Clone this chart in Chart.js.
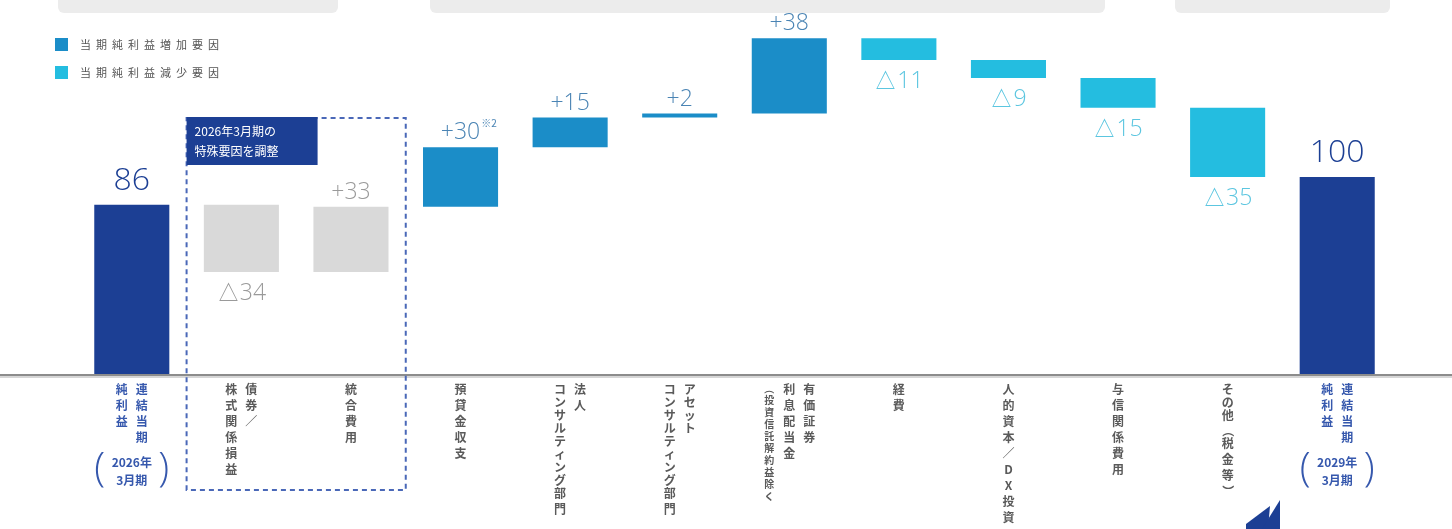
<!DOCTYPE html>
<html lang="ja">
<head>
<meta charset="utf-8">
<script src="https://cdn.jsdelivr.net/npm/chart.js@4/dist/chart.umd.min.js"></script>
<style>
  html, body { margin: 0; padding: 0; background: #fff; }
  #wrap { width: 1452px; height: 529px; }
</style>
</head>
<body>
<div id="wrap"><canvas id="waterfall" width="1452" height="529"></canvas></div>
<script>
// カテゴリ（縦書き、右の列から左の列へ）
const categories = [
  ['連結当期', '純利益'],
  ['債券／', '株式関係損益'],
  ['統合費用'],
  ['預貸金収支'],
  ['法人', 'コンサルティング部門'],
  ['アセット', 'コンサルティング部門'],
  ['有価証券', '利息配当金', '（投資信託解約益除く'],
  ['経費'],
  ['人的資本／DX投資'],
  ['与信関係費用'],
  ['その他（税金等）'],
  ['連結当期', '純利益']
];
const periods = [['2026年', '3月期'], null, null, null, null, null, null, null, null, null, null, ['2029年', '3月期']];

// 増減額（億円）
const deltas = [86, -34, 33, 30, 15, 2, 38, -11, -9, -15, -35, 100];
const kinds = ['total', 'adjust', 'adjust', 'up', 'up', 'up', 'up', 'down', 'down', 'down', 'down', 'total'];
const valueLabels = ['86', '△34', '+33', '+30', '+15', '+2', '+38', '△11', '△9', '△15', '△35', '100'];
const legendLabels = ['当期純利益増加要因', '当期純利益減少要因'];
const noteText = ['2026年3月期の', '特殊要因を調整'];

const barColors = { total: '#1c3f94', adjust: '#d9d9d9', up: '#1b8dc8', down: '#24bde0' };
const textColors = { total: '#1c3f94', adjust: '#9a9a9a', up: '#4a84b4', down: '#5cc6e0' };

// 積み上げ範囲を作る
let running = 0;
const ranges = deltas.map((d, i) => {
  if (kinds[i] === 'total') { running = d; return [0, d]; }
  const start = running;
  running += d;
  return [Math.min(start, running), Math.max(start, running)];
});

const JP = '"Noto Sans CJK JP", "Noto Sans", sans-serif';
const NUM = '"Open Sans", "Noto Sans", sans-serif';

// 縦書き：かなは詰め、括弧は回転
function drawVertical(ctx, text, x, y, small) {
  for (const ch of Array.from(text)) {
    let step;
    if (small) step = 12;
    else if ('（）()'.includes(ch)) step = 12;
    else if (/[\u3040-\u30ff]/.test(ch)) step = 13;
    else step = 16;
    if ('（）()'.includes(ch)) {
      ctx.save();
      ctx.translate(x, y + step / 2);
      ctx.rotate(Math.PI / 2);
      ctx.textBaseline = 'middle';
      ctx.fillText(ch, 0, 0);
      ctx.restore();
    } else {
      ctx.textBaseline = 'top';
      ctx.fillText(ch, x, y);
    }
    y += step;
  }
}

const decor = {
  id: 'decor',
  beforeDraw(chart) {
    const ctx = chart.ctx;
    ctx.save();
    ctx.fillStyle = '#ececec';
    [[58, 280], [430, 675], [1175, 215]].forEach(([x, w]) => {
      ctx.beginPath();
      ctx.roundRect(x, -8, w, 21, 6);
      ctx.fill();
    });
    ctx.restore();
  },
  afterDraw(chart) {
    const ctx = chart.ctx;
    const xs = chart.scales.x;
    const meta = chart.getDatasetMeta(0);
    ctx.save();

    // 基準線
    ctx.fillStyle = '#8c8c8c';
    ctx.fillRect(0, 374, 1452, 2);
    ctx.fillStyle = '#d6d6d6';
    ctx.fillRect(0, 376, 1452, 2);

    // 数値ラベル
    ctx.textAlign = 'center';
    meta.data.forEach((bar, i) => {
      const k = kinds[i];
      ctx.fillStyle = textColors[k];
      if (k === 'total') {
        ctx.font = '300 32px ' + NUM;
        ctx.textBaseline = 'bottom';
        ctx.fillText(valueLabels[i], bar.x, bar.y - 8);
      } else if (deltas[i] > 0) {
        ctx.font = '300 23px ' + NUM;
        ctx.textBaseline = 'bottom';
        ctx.fillText(valueLabels[i], bar.x, bar.y - 3);
        if (i === 3) {
          const w = ctx.measureText(valueLabels[i]).width;
          ctx.font = '10px ' + JP;
          ctx.textAlign = 'left';
          ctx.fillText('※2', bar.x + w / 2 + 1, bar.y - 19);
          ctx.textAlign = 'center';
        }
      } else {
        ctx.font = '300 23px ' + NUM;
        ctx.textBaseline = 'top';
        const bottom = Math.max(bar.y, bar.base);
        ctx.fillText(valueLabels[i], bar.x, bottom + 10);
      }
    });

    // 縦書きカテゴリ
    const colGap = 20;
    categories.forEach((cols, i) => {
      const cx = xs.getPixelForValue(i);
      const isTotal = kinds[i] === 'total';
      ctx.fillStyle = isTotal ? '#3658ad' : '#5a5a5a';
      ctx.textAlign = 'center';
      const n = cols.length;
      cols.forEach((col, j) => {
        const small = col.startsWith('（');
        ctx.font = (small ? 'bold 10px ' : 'bold 12px ') + JP;
        const x = cx + ((n - 1) / 2 - j) * colGap;
        drawVertical(ctx, col, x, 383, small);
      });
      const p = periods[i];
      if (p) {
        ctx.font = 'bold 12px ' + JP;
        ctx.textBaseline = 'middle';
        ctx.fillText(p[0], cx, 462);
        ctx.fillText(p[1], cx, 480);
        ctx.font = '200 40px ' + NUM;
        ctx.fillText('(', cx - 32, 470);
        ctx.fillText(')', cx + 32, 470);
      }
    });

    // 特殊要因の枠
    const left = (xs.getPixelForValue(0) + xs.getPixelForValue(1)) / 2;
    const right = (xs.getPixelForValue(2) + xs.getPixelForValue(3)) / 2;
    ctx.strokeStyle = '#4a68b8';
    ctx.lineWidth = 2;
    ctx.setLineDash([5, 4]);
    ctx.strokeRect(left, 118, right - left, 372);
    ctx.setLineDash([]);
    ctx.fillStyle = '#1c3f94';
    ctx.fillRect(left, 117, 131, 48);
    ctx.fillStyle = '#ffffff';
    ctx.font = '12px ' + JP;
    ctx.textAlign = 'left';
    ctx.textBaseline = 'middle';
    ctx.fillText(noteText[0], left + 8, 131);
    ctx.fillText(noteText[1], left + 8, 151);

    // 凡例
    [barColors.up, barColors.down].forEach((c, j) => {
      const y = 38 + j * 28;
      ctx.fillStyle = c;
      ctx.fillRect(55, y, 13, 13);
      ctx.fillStyle = '#555';
      ctx.font = '11px ' + JP;
      ctx.letterSpacing = '5px';
      ctx.textBaseline = 'middle';
      ctx.fillText(legendLabels[j], 80, y + 7);
      ctx.letterSpacing = '0px';
    });

    // ロゴ風マーク
    ctx.fillStyle = '#1c3f94';
    ctx.beginPath();
    ctx.moveTo(1246, 524); ctx.lineTo(1270, 506); ctx.lineTo(1268, 529); ctx.lineTo(1246, 529);
    ctx.closePath();
    ctx.fill();
    ctx.beginPath();
    ctx.moveTo(1262, 529); ctx.lineTo(1280, 500); ctx.lineTo(1280, 529);
    ctx.closePath();
    ctx.fill();
    ctx.restore();
  }
};

new Chart(document.getElementById('waterfall'), {
  type: 'bar',
  data: {
    labels: categories.map(c => c.join('')),
    datasets: [{
      data: ranges,
      backgroundColor: kinds.map(k => barColors[k]),
      borderWidth: 0,
      barPercentage: 0.685,
      categoryPercentage: 1
    }]
  },
  options: {
    responsive: false,
    animation: false,
    devicePixelRatio: 1,
    layout: { padding: { left: 77, right: 60, top: 30, bottom: 154 } },
    plugins: { legend: { display: false }, tooltip: { enabled: false } },
    scales: {
      x: { display: false },
      y: { display: false, min: 0, max: 174.2 }
    }
  },
  plugins: [decor]
});
</script>
</body>
</html>
